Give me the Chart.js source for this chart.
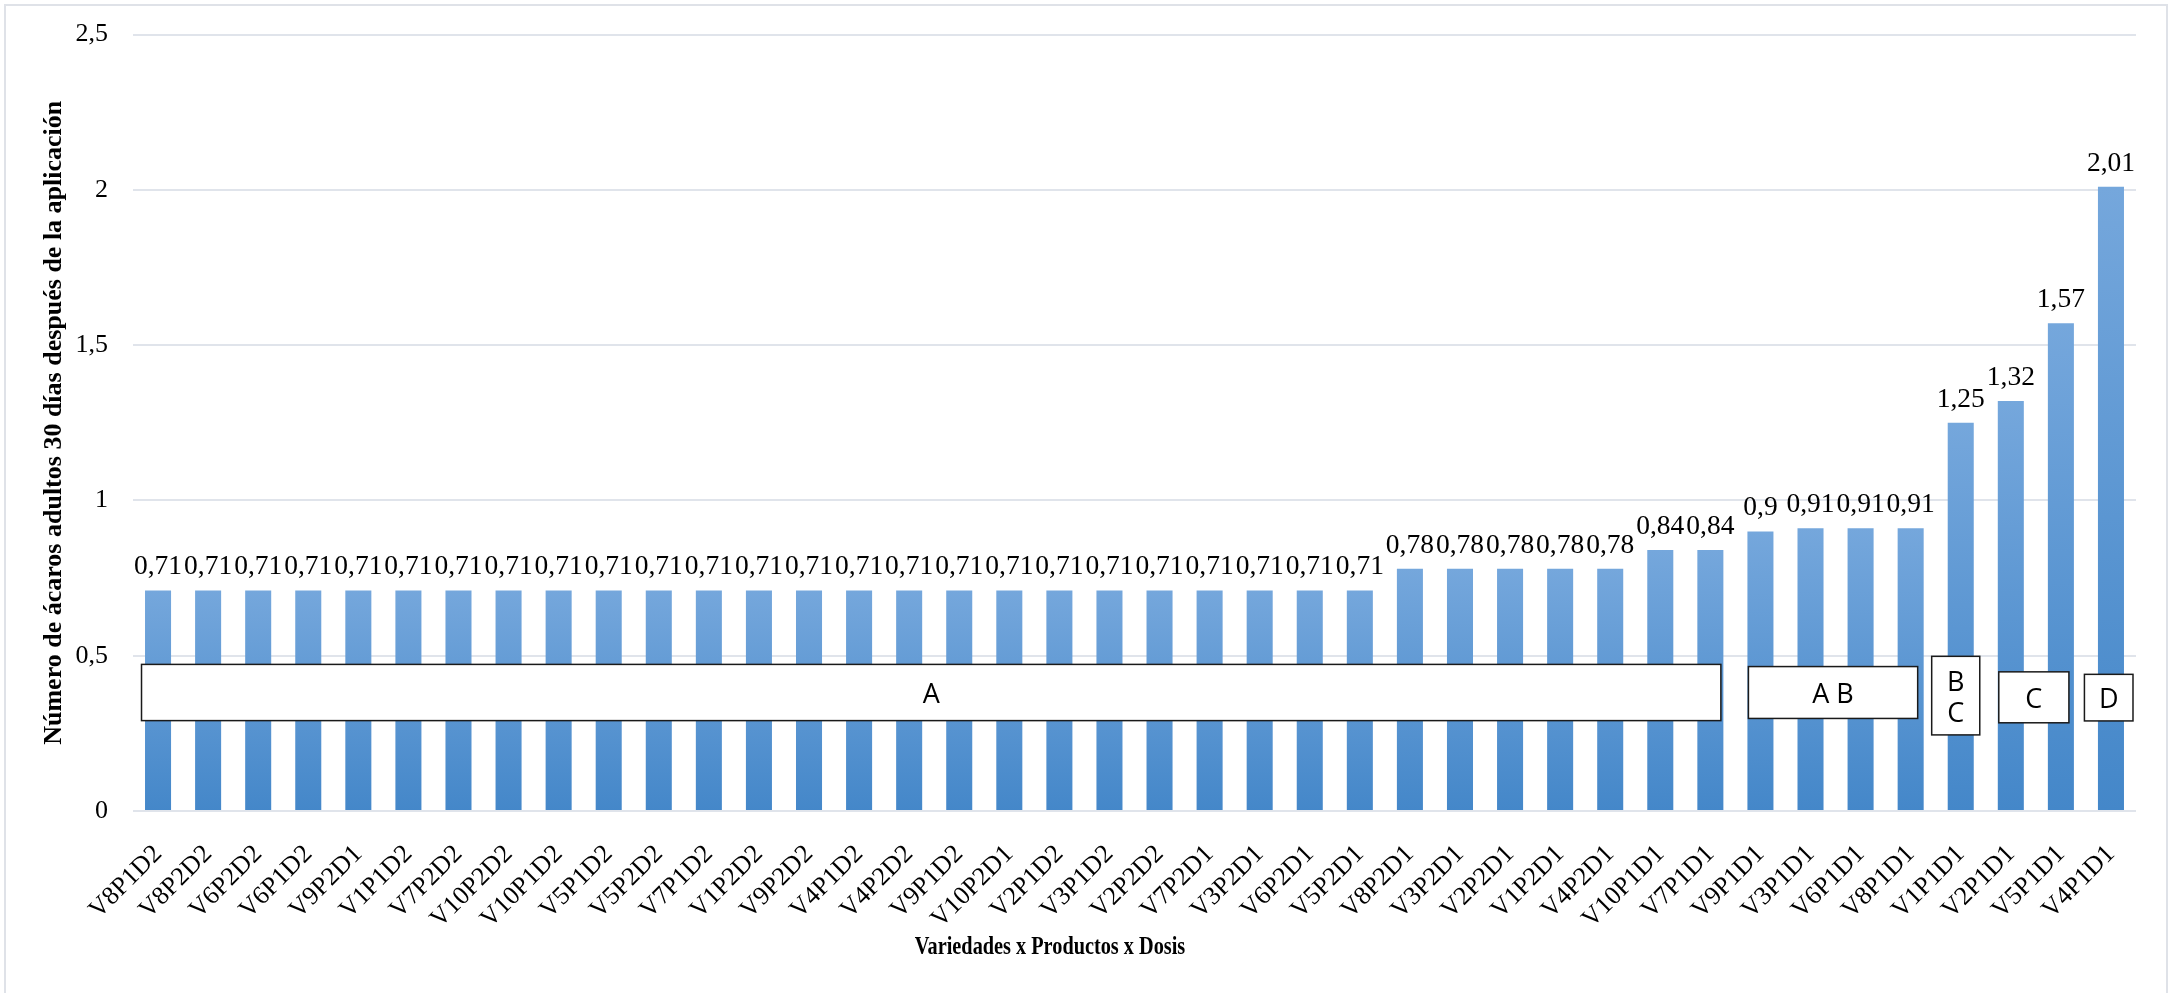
<!DOCTYPE html>
<html lang="es">
<head>
<meta charset="UTF-8">
<title>Número de ácaros adultos 30 días después de la aplicación</title>
<script src="https://cdn.jsdelivr.net/npm/chart.js"></script>
<style>
    html, body { margin: 0; padding: 0; background: #fff; overflow: hidden; }
    #marco { position: absolute; left: 4px; top: 4px; width: 2160px; height: 1010px; border: 2px solid #dfe2e8; }
    #caja { position: relative; width: 2160px; height: 987px; }
</style>
</head>
<body>
<div id="marco"><div id="caja"><canvas id="acarosChart"></canvas></div></div>

<script>
    // Tratamientos (Variedad x Producto x Dosis), en el orden del gráfico
    const tratamientos = [
        "V8P1D2", "V8P2D2", "V6P2D2", "V6P1D2", "V9P2D1", "V1P1D2", "V7P2D2", "V10P2D2",
        "V10P1D2", "V5P1D2", "V5P2D2", "V7P1D2", "V1P2D2", "V9P2D2", "V4P1D2", "V4P2D2",
        "V9P1D2", "V10P2D1", "V2P1D2", "V3P1D2", "V2P2D2", "V7P2D1", "V3P2D1", "V6P2D1",
        "V5P2D1", "V8P2D1", "V3P2D1", "V2P2D1", "V1P2D1", "V4P2D1", "V10P1D1", "V7P1D1",
        "V9P1D1", "V3P1D1", "V6P1D1", "V8P1D1", "V1P1D1", "V2P1D1", "V5P1D1", "V4P1D1"
    ];

    // Número de ácaros adultos a los 30 días
    const acaros = [
        0.71, 0.71, 0.71, 0.71, 0.71, 0.71, 0.71, 0.71,
        0.71, 0.71, 0.71, 0.71, 0.71, 0.71, 0.71, 0.71,
        0.71, 0.71, 0.71, 0.71, 0.71, 0.71, 0.71, 0.71,
        0.71, 0.78, 0.78, 0.78, 0.78, 0.78, 0.84, 0.84,
        0.9, 0.91, 0.91, 0.91, 1.25, 1.32, 1.57, 2.01
    ];

    const ticksY = [0, 0.5, 1, 1.5, 2, 2.5];

    // Letras de significancia (rango en índices de categoría y en valores del eje Y)
    const letras = ["A", "A B", "B\nC", "C", "D"];
    const letrasDesde = [-0.33, 31.76, 35.42, 36.76, 38.47];
    const letrasHasta = [31.21, 35.14, 36.38, 38.16, 39.44];
    const letrasArriba = [0.472, 0.465, 0.498, 0.448, 0.44];
    const letrasAbajo = [0.291, 0.298, 0.245, 0.284, 0.29];

    const coma = v => String(v).replace(".", ",");
    const serif = "'Liberation Serif', 'Times New Roman', serif";

    Chart.defaults.font.family = serif;
    Chart.defaults.color = "#000";

    // etiquetas de valor encima de cada barra
    const etiquetas = {
        id: "etiquetas",
        afterDatasetsDraw(chart) {
            const ctx = chart.ctx;
            ctx.save();
            ctx.font = "27.5px " + serif;
            ctx.fillStyle = "#000";
            ctx.textAlign = "center";
            ctx.textBaseline = "alphabetic";
            chart.getDatasetMeta(0).data.forEach((bar, i) => {
                ctx.fillText(coma(acaros[i]), bar.x, bar.y - 16);
            });
            ctx.restore();
        }
    };

    // cuadros con las letras de la prueba de medias
    const cuadros = {
        id: "cuadros",
        afterDatasetsDraw(chart) {
            const ctx = chart.ctx;
            const xs = chart.scales.x, ys = chart.scales.y;
            ctx.save();
            letras.forEach((txt, i) => {
                const x1 = xs.getPixelForValue(letrasDesde[i]);
                const x2 = xs.getPixelForValue(letrasHasta[i]);
                const y1 = ys.getPixelForValue(letrasArriba[i]);
                const y2 = ys.getPixelForValue(letrasAbajo[i]);
                ctx.fillStyle = "#fff";
                ctx.fillRect(x1, y1, x2 - x1, y2 - y1);
                ctx.strokeStyle = "#1a1a1a";
                ctx.lineWidth = 1.5;
                ctx.strokeRect(x1, y1, x2 - x1, y2 - y1);
                ctx.fillStyle = "#000";
                ctx.font = "27px 'Open Sans', sans-serif";
                ctx.textAlign = "center";
                ctx.textBaseline = "middle";
                const lineas = txt.split("\n");
                const cy = (y1 + y2) / 2 + 3;
                lineas.forEach((l, k) => {
                    ctx.fillText(l, (x1 + x2) / 2, cy + (k - (lineas.length - 1) / 2) * 31);
                });
            });
            ctx.restore();
        }
    };

    // título del eje X (tipografía condensada como en el original)
    const tituloX = {
        id: "tituloX",
        afterDraw(chart) {
            const ctx = chart.ctx;
            ctx.save();
            ctx.translate(chart.width / 2 - 36, chart.height - 46);
            ctx.scale(0.78, 1);
            ctx.font = "bold 26px " + serif;
            ctx.fillStyle = "#000";
            ctx.textAlign = "center";
            ctx.textBaseline = "middle";
            ctx.fillText("Variedades x Productos x Dosis", 0, 0);
            ctx.restore();
        }
    };

    new Chart(document.getElementById("acarosChart"), {
        type: "bar",
        data: {
            labels: tratamientos,
            datasets: [{
                data: acaros,
                backgroundColor: c => {
                    if (!c.chart.chartArea || c.raw === undefined) return "#5b9bd5";
                    const y = c.chart.scales.y;
                    const g = c.chart.ctx.createLinearGradient(0, y.getPixelForValue(c.raw), 0, y.getPixelForValue(0));
                    g.addColorStop(0, "#75a7dc");
                    g.addColorStop(1, "#4487c9");
                    return g;
                },
                barPercentage: 0.52,
                categoryPercentage: 1
            }]
        },
        options: {
            responsive: true,
            maintainAspectRatio: false,
            animation: false,
            layout: { padding: { top: 28.5, right: 30, bottom: 60, left: 0 } },
            plugins: {
                legend: { display: false },
                tooltip: { enabled: false },
                title: { display: false }
            },
            scales: {
                x: {
                    grid: { display: false },
                    border: { display: false },
                    ticks: {
                        autoSkip: false,
                        minRotation: 45,
                        maxRotation: 45,
                        padding: 20,
                        font: { size: 26 }
                    },
                    afterFit: s => { s.height = 122; }
                },
                y: {
                    min: 0,
                    max: 2.5,
                    afterBuildTicks: s => { s.ticks = ticksY.map(v => ({ value: v })); },
                    grid: { color: "#e0e4eb", lineWidth: 2, drawTicks: false },
                    border: { display: false },
                    ticks: { padding: 25, font: { size: 26 }, callback: v => coma(v) },
                    title: {
                        display: true,
                        text: "Número de ácaros adultos 30 días después de la aplicación",
                        font: { size: 26, weight: "bold" },
                        padding: { top: 33, bottom: 0 }
                    },
                    afterFit: s => {
                        s.width = 127;
                        s.paddingTop = 15;
                        s.paddingBottom = 15;
                    }
                }
            }
        },
        plugins: [etiquetas, cuadros, tituloX]
    });
</script>
</body>
</html>
